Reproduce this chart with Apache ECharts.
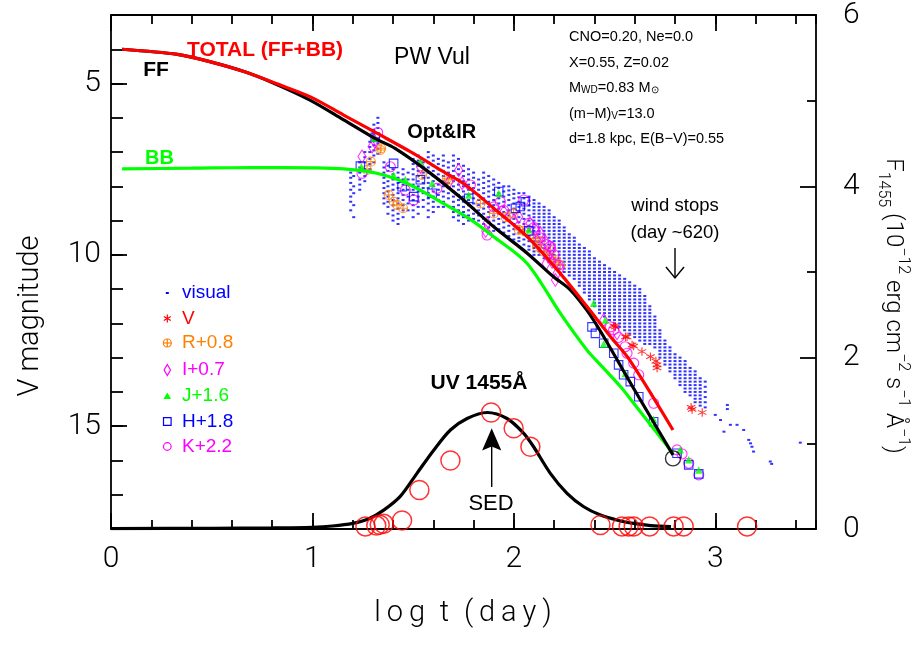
<!DOCTYPE html>
<html>
<head>
<meta charset="utf-8">
<script src="https://cdn.jsdelivr.net/npm/echarts@6/dist/echarts.min.js"></script>
<style>
  html, body { margin: 0; padding: 0; background: #fff; }
  #chart { width: 918px; height: 657px; }
</style>
</head>
<body>
<div id="chart"></div>
<script>
// ---- axis ticks -------------------------------------------------------
const xMajorTicks = [0, 1, 2, 3];
const vMajorTicks = [5, 10, 15];

// ---- model light curves (log t, V mag) --------------------------------
const totalModel = [[0.055,4.0],[0.33,4.15],[0.49,4.36],[0.66,4.65],[0.82,5.0],[0.99,5.39],[1.155,5.92],[1.32,6.45],[1.486,6.99],[1.65,7.57],[1.76,7.96],[1.90,8.64],[2.066,9.47],[2.23,10.54],[2.363,11.51],[2.48,12.39],[2.575,13.07],[2.79,15.11]];
const ffModel = [[0.055,4.0],[0.33,4.15],[0.49,4.36],[0.66,4.65],[0.80,4.97],[0.99,5.49],[1.155,6.06],[1.31,6.6],[1.41,6.89],[1.575,7.57],[1.74,8.35],[1.90,9.18],[2.066,9.95],[2.197,10.64],[2.28,11.02],[2.363,11.62],[2.43,12.23],[2.6,13.95],[2.79,15.84]];
const bbModel = [[0.055,7.49],[0.4,7.47],[0.7,7.45],[1.0,7.46],[1.155,7.49],[1.32,7.62],[1.486,7.96],[1.65,8.5],[1.78,8.95],[1.90,9.47],[2.066,10.25],[2.23,11.7],[2.363,12.78],[2.43,13.21],[2.53,13.85],[2.595,14.33],[2.79,15.79]];
const windStop = [[2.79, 15.94]];

// ---- UV 1455 flux (log t, 1e-12 erg/cm2/s/A) ---------------------------
const uvModel = [[0.0,0.005],[0.5,0.008],[0.8,0.012],[1.0,0.02],[1.1,0.035],[1.2,0.066],[1.28,0.12],[1.354,0.22],[1.436,0.38],[1.519,0.65],[1.602,0.92],[1.685,1.156],[1.768,1.29],[1.867,1.36],[1.966,1.29],[2.049,1.117],[2.098,0.96],[2.181,0.65],[2.264,0.417],[2.347,0.26],[2.43,0.163],[2.52,0.1],[2.595,0.066],[2.68,0.04],[2.78,0.027]];
const uvObs = [[1.263,0.03],[1.317,0.04],[1.334,0.05],[1.354,0.06],[1.445,0.1],[1.531,0.455],[1.685,0.80],[1.887,1.36],[1.999,1.175],[2.082,0.96],[2.43,0.047],[2.537,0.03],[2.57,0.03],[2.595,0.03],[2.674,0.03],[2.793,0.03],[2.843,0.03],[3.158,0.03]];

// ---- photometry (log t, mag) -------------------------------------------
const vObs = [[2.496,12.07],[2.504,12.1],[2.554,12.39],[2.562,12.39],[2.587,12.63],[2.595,12.66],[2.636,12.82],[2.678,12.97],[2.705,13.1],[2.711,13.21],[2.711,13.3],[2.88,14.45],[2.885,14.51],[2.935,14.6]];
const rObs = [[1.29,7.28],[1.271,7.52],[1.337,6.94],[1.341,6.89],[1.378,8.25],[1.403,8.45],[1.42,8.54],[1.45,8.64],[1.544,7.67],[1.668,7.77],[1.676,7.81],[1.834,8.5],[1.9,8.79],[1.96,8.9],[1.999,8.79],[2.024,9.27],[2.05,9.3],[2.099,9.52],[2.115,9.76],[2.13,9.6],[2.148,9.91],[2.17,10.0],[2.181,9.86],[2.206,10.15],[2.2,10.2],[2.23,10.3]];
const iObs = [[1.246,7.13],[1.296,6.84],[1.31,6.7],[1.536,7.43],[1.68,7.86],[1.726,7.52],[1.743,7.91],[1.86,9.3],[1.867,9.08],[1.95,8.75],[2.0,9.0],[2.024,8.89],[2.08,9.08],[2.11,9.3],[2.132,9.37],[2.156,9.61],[2.16,10.25],[2.17,10.05],[2.189,9.81],[2.19,10.2],[2.206,10.73],[2.214,10.54],[2.23,10.4],[2.446,11.9],[2.512,12.29]];
const jObs = [[1.243,7.43],[1.307,6.6],[1.403,7.67],[1.461,7.8],[1.536,7.28],[1.594,7.91],[1.775,8.25],[1.925,8.2],[2.074,9.27],[2.396,11.41],[2.454,11.9],[2.446,12.6],[2.553,13.46],[2.694,14.8],[2.826,15.69],[2.868,15.98],[2.918,16.28]];
const hObs = [[1.238,7.41],[1.312,6.57],[1.403,7.33],[1.445,8.01],[1.503,8.3],[1.536,7.81],[1.594,8.2],[1.776,8.35],[1.925,8.15],[2.008,8.64],[2.032,8.59],[2.057,8.45],[2.074,9.3],[2.388,12.1],[2.405,12.29],[2.446,12.58],[2.496,12.87],[2.52,13.21],[2.545,13.5],[2.578,13.7],[2.62,14.14],[2.694,14.87],[2.81,15.79],[2.868,16.13],[2.918,16.39]];
const kObs = [[1.246,7.62],[1.324,6.43],[1.387,7.43],[1.461,8.11],[1.503,8.4],[1.618,8.06],[1.784,7.96],[1.867,9.42],[1.9,8.6],[1.933,8.45],[1.95,8.7],[2.049,8.4],[2.074,9.08],[2.1,9.2],[2.13,9.5],[2.16,9.7],[2.18,9.75],[2.2,10.0],[2.22,10.3],[2.479,12.1],[2.495,12.19],[2.52,12.41],[2.553,12.68],[2.562,12.87],[2.595,13.16],[2.62,13.5],[2.694,14.33],[2.81,15.69],[2.835,15.81],[2.868,16.08],[2.918,16.42]];

// visual estimates: one column per epoch group, log t then the magnitudes
const visualCols = [
  [1.19,[7.6,7.75,7.9,8.1,8.3,8.45,8.7]],
  [1.205,[7.7,8.0,8.2,8.55,8.9]],
  [1.235,[7.3,7.45,7.6,7.8,7.95,8.1]],
  [1.26,[7.0,7.15,7.3,7.5,7.7,7.85]],
  [1.285,[6.7,6.85,7.0,7.2,7.35,7.5]],
  [1.305,[6.2,6.35,6.5,6.65,6.8,6.95,7.1,7.3]],
  [1.325,[6.0,6.15,6.3,6.45,6.6,6.75,6.9,7.05]],
  [1.355,[7.3,7.45,7.6,7.75,7.9,8.05,8.2,8.35,8.5]],
  [1.375,[7.4,7.55,7.7,7.85,8.0,8.15,8.3,8.45,8.6,8.8]],
  [1.40,[7.5,7.65,7.8,7.95,8.1,8.25,8.4,8.55,8.7,8.85,9.0]],
  [1.425,[7.6,7.75,7.9,8.05,8.2,8.35,8.5,8.65,8.8,8.95,9.1]],
  [1.45,[7.5,7.65,7.8,7.95,8.1,8.25,8.4,8.55,8.7,8.9]],
  [1.475,[7.6,7.8,7.95,8.1,8.3,8.5,8.7]],
  [1.50,[7.2,7.35,7.5,7.65,7.8,7.95,8.1,8.25,8.4,8.55,8.7,8.9]],
  [1.525,[7.1,7.25,7.4,7.55,7.7,7.85,8.0,8.15,8.3,8.45,8.6,8.8]],
  [1.55,[7.3,7.45,7.6,7.75,7.9,8.05,8.2,8.4,8.6]],
  [1.575,[7.0,7.15,7.3,7.45,7.6,7.75,7.9,8.05,8.2,8.35,8.5,8.7,8.9]],
  [1.60,[7.1,7.25,7.4,7.55,7.7,7.85,8.0,8.15,8.3,8.45,8.6,8.75]],
  [1.625,[7.2,7.35,7.5,7.65,7.8,7.95,8.1,8.25,8.4,8.6]],
  [1.65,[7.1,7.25,7.4,7.55,7.7,7.85,8.0,8.15,8.3,8.45,8.6]],
  [1.675,[7.3,7.45,7.6,7.75,7.9,8.05,8.2,8.35]],
  [1.70,[7.1,7.25,7.4,7.55,7.7,7.85,8.0,8.15,8.3,8.45,8.6,8.75,8.9]],
  [1.725,[7.2,7.35,7.5,7.65,7.8,7.95,8.1,8.25,8.4,8.55,8.7,8.85,9.0]],
  [1.75,[7.4,7.55,7.7,7.85,8.0,8.15,8.3,8.45,8.6,8.75,8.9,9.1]],
  [1.775,[7.5,7.65,7.8,7.95,8.1,8.25,8.4,8.55,8.7,8.85,9.0]],
  [1.80,[7.6,7.75,7.9,8.05,8.2,8.35,8.5,8.65,8.8,8.95]],
  [1.825,[7.8,7.95,8.1,8.25,8.4,8.55,8.7,8.85,9.0]],
  [1.85,[7.6,7.75,7.9,8.05,8.2,8.35,8.5,8.65,8.8,8.95,9.1]],
  [1.875,[7.7,7.85,8.0,8.15,8.3,8.45,8.6,8.75,8.9,9.05,9.2]],
  [1.90,[7.8,7.95,8.1,8.25,8.4,8.55,8.7,8.85,9.0,9.15,9.3]],
  [1.925,[7.9,8.05,8.2,8.35,8.5,8.65,8.8,8.95,9.1,9.25]],
  [1.95,[8.0,8.15,8.3,8.45,8.6,8.75,8.9,9.05,9.2,9.35]],
  [1.975,[8.0,8.12,8.25,8.4,8.55,8.7,8.85,9.0,9.15,9.3,9.45]],
  [2.00,[8.1,8.22,8.35,8.5,8.65,8.8,8.95,9.1,9.25,9.4,9.55]],
  [2.025,[8.2,8.32,8.45,8.6,8.75,8.9,9.05,9.2,9.35,9.5,9.6]],
  [2.05,[8.2,8.35,8.5,8.65,8.8,8.95,9.1,9.25,9.4,9.55,9.7]],
  [2.075,[8.3,8.42,8.55,8.7,8.85,9.0,9.15,9.3,9.45,9.6,9.75,9.85]],
  [2.10,[8.4,8.5,8.6,8.7,8.8,8.9,9.0,9.1,9.2,9.3,9.4,9.5,9.6,9.7,9.8,9.9,10.0]],
  [2.125,[8.5,8.6,8.7,8.8,8.9,9.0,9.1,9.2,9.3,9.4,9.5,9.6,9.7,9.8,9.9,10.0]],
  [2.15,[8.6,8.7,8.8,8.9,9.0,9.1,9.2,9.3,9.4,9.5,9.6,9.7,9.8,9.9,10.0,10.1]],
  [2.175,[8.7,8.8,8.9,9.0,9.1,9.2,9.3,9.4,9.5,9.6,9.7,9.8,9.9,10.0,10.1,10.2]],
  [2.20,[8.9,9.0,9.1,9.2,9.3,9.4,9.5,9.6,9.7,9.8,9.9,10.0,10.1,10.2,10.3]],
  [2.225,[9.0,9.1,9.2,9.3,9.4,9.5,9.6,9.7,9.8,9.9,10.0,10.1,10.2,10.3,10.4]],
  [2.25,[9.2,9.3,9.4,9.5,9.6,9.7,9.8,9.9,10.0,10.1,10.2,10.3,10.4,10.5]],
  [2.275,[9.4,9.5,9.6,9.7,9.8,9.9,10.0,10.1,10.2,10.3,10.4,10.5,10.6]],
  [2.30,[9.5,9.6,9.7,9.8,9.9,10.0,10.1,10.2,10.3,10.4,10.5,10.6,10.7]],
  [2.325,[9.7,9.8,9.9,10.0,10.1,10.2,10.3,10.4,10.5,10.6,10.7,10.8,10.9]],
  [2.35,[9.8,9.9,10.0,10.1,10.2,10.3,10.4,10.5,10.6,10.7,10.8,10.9,11.0,11.1]],
  [2.375,[9.9,10.0,10.1,10.2,10.3,10.4,10.5,10.6,10.7,10.8,10.9,11.0,11.1,11.2,11.3]],
  [2.40,[10.1,10.2,10.3,10.4,10.5,10.6,10.7,10.8,10.9,11.0,11.1,11.2,11.3,11.4,11.5]],
  [2.425,[10.2,10.3,10.4,10.5,10.6,10.7,10.8,10.9,11.0,11.1,11.2,11.3,11.4,11.5,11.6,11.7]],
  [2.45,[10.3,10.4,10.5,10.6,10.7,10.8,10.9,11.0,11.1,11.2,11.3,11.4,11.5,11.6,11.7,11.8]],
  [2.475,[10.4,10.5,10.6,10.7,10.8,10.9,11.0,11.1,11.2,11.3,11.4,11.5,11.6,11.7,11.8,11.9]],
  [2.50,[10.5,10.6,10.7,10.8,10.9,11.0,11.1,11.2,11.3,11.4,11.5,11.6,11.7,11.8,11.9,12.0]],
  [2.525,[10.6,10.7,10.8,10.9,11.0,11.1,11.2,11.3,11.4,11.5,11.6,11.7,11.8,11.9,12.0,12.1]],
  [2.55,[10.7,10.8,10.9,11.0,11.1,11.2,11.3,11.4,11.5,11.6,11.7,11.8,11.9,12.0,12.1,12.2]],
  [2.575,[10.8,10.9,11.0,11.1,11.2,11.3,11.4,11.5,11.6,11.7,11.8,11.9,12.0,12.1,12.2,12.3]],
  [2.60,[10.9,11.0,11.1,11.2,11.3,11.4,11.5,11.6,11.7,11.8,11.9,12.0,12.1,12.2,12.3,12.4]],
  [2.625,[11.0,11.1,11.2,11.3,11.4,11.5,11.6,11.7,11.8,11.9,12.0,12.1,12.2,12.3,12.4,12.5]],
  [2.65,[11.2,11.3,11.4,11.5,11.6,11.7,11.8,11.9,12.0,12.1,12.2,12.3,12.4,12.5,12.6]],
  [2.675,[11.5,11.6,11.7,11.8,11.9,12.0,12.1,12.2,12.3,12.4,12.5,12.6]],
  [2.70,[11.8,11.9,12.0,12.1,12.2,12.3,12.4,12.5,12.6,12.7]],
  [2.725,[12.2,12.3,12.4,12.5,12.6,12.7,12.8,12.9,13.0]],
  [2.75,[12.5,12.6,12.7,12.8,12.9,13.0,13.1,13.2]],
  [2.775,[12.7,12.8,12.9,13.0,13.1,13.2,13.3,13.4]],
  [2.80,[12.9,13.0,13.1,13.2,13.3,13.4,13.5,13.6]],
  [2.825,[13.0,13.1,13.2,13.3,13.4,13.5,13.6,13.7,13.8]],
  [2.85,[13.1,13.2,13.3,13.4,13.5,13.6,13.7,13.8,13.9,14.0]],
  [2.875,[13.3,13.4,13.5,13.6,13.7,13.8,13.9,14.0,14.1]],
  [2.90,[13.4,13.5,13.6,13.7,13.8,13.9,14.0,14.1,14.2,14.3]],
  [2.925,[13.6,13.7,13.8,13.9,14.0,14.1,14.2,14.3,14.4]],
  [2.95,[13.7,13.85,14.0,14.15,14.3,14.45]]
];
const visualTail = [[3.0,14.67],[3.026,14.82],[3.043,15.16],[3.06,14.38],[3.06,14.5],[3.075,14.96],[3.108,14.96],[3.141,15.11],[3.166,15.4],[3.175,15.5],[3.182,15.6],[3.19,15.74],[3.273,16.03],[3.28,16.1],[3.422,15.48]];

const visualPts = visualCols.flatMap(([t, mags]) => mags.map(m => [t, m])).concat(visualTail);

// ---- styling ------------------------------------------------------------
const C = { red: '#ff0000', green: '#00ff00', blue: '#0000ff', magenta: '#ff00ff', orange: '#ff8000', black: '#000000' };
const THIN = '"Roboto", "Liberation Sans", sans-serif';
const SANS = '"Liberation Sans", Arial, sans-serif';
const FRAME = { color: '#000', width: 1.8 };

const SYM_OPLUS = 'path://M0,5A5,5 0 1 1 10,5A5,5 0 1 1 0,5Z M5,0L5,10 M0,5L10,5';
const SYM_STAR = 'path://M5,0L5,10 M0.67,2.5L9.33,7.5 M0.67,7.5L9.33,2.5';

function hollow(color, w) {
  return { color: 'rgba(0,0,0,0)', borderColor: color, borderWidth: w || 1.1 };
}

function photSeries(name, data, symbol, size, itemStyle, z) {
  return { name, type: 'scatter', xAxisIndex: 0, yAxisIndex: 0, data, symbol, symbolSize: size,
           itemStyle, z: z || 3, silent: true, clip: false };
}

function modelLine(data, color, z) {
  return { type: 'line', xAxisIndex: 0, yAxisIndex: 0, data, smooth: 0.3,
           showSymbol: false, symbol: 'none', lineStyle: { color, width: 3.2 }, z, silent: true };
}

// ---- annotations ------------------------------------------------------
function txt(x, y, text, font, fill, extra) {
  return Object.assign({ type: 'text', x, y, silent: true, z: 50,
    style: { text, font, fill, align: 'center', verticalAlign: 'middle', textAlign: 'center', textVerticalAlign: 'middle' } }, extra || {});
}
function leftTxt(x, y, text, font, fill, rich) {
  const el = txt(x, y, text, font, fill);
  el.style.align = 'left'; el.style.textAlign = 'left';
  if (rich) el.style.rich = rich;
  return el;
}
function seg(x1, y1, x2, y2, stroke, w) {
  return { type: 'line', silent: true, z: 50, shape: { x1, y1, x2, y2 }, style: { stroke, lineWidth: w || 1.2 } };
}

const paramRich = {
  s: { fontSize: 10, fontFamily: SANS, fill: '#000', verticalAlign: 'bottom', lineHeight: 10 }
};

const rightTitleRich = {
  b: { fontSize: 24, fontFamily: THIN, fontWeight: 300, fill: '#000', lineHeight: 36 },
  sup: { fontSize: 16, fontFamily: THIN, fontWeight: 300, fill: '#000', verticalAlign: 'top', lineHeight: 16 },
  sub: { fontSize: 16, fontFamily: THIN, fontWeight: 300, fill: '#000', verticalAlign: 'bottom', lineHeight: 16 }
};

const legendRows = [
  { label: 'visual', color: C.blue, y: 293 },
  { label: 'V', color: C.red, y: 318.5 },
  { label: 'R+0.8', color: C.orange, y: 343 },
  { label: 'I+0.7', color: C.magenta, y: 370 },
  { label: 'J+1.6', color: C.green, y: 396 },
  { label: 'H+1.8', color: C.blue, y: 421.5 },
  { label: 'K+2.2', color: C.magenta, y: 446.5 }
];
const LX = 167.3, LT = 182;
const legendGraphics = [
  { type: 'rect', silent: true, z: 50, shape: { x: LX - 1.5, y: 292, width: 3, height: 2 }, style: { fill: C.blue } },
  seg(LX, 314.5, LX, 322.5, C.red), seg(LX - 3.5, 316.5, LX + 3.5, 320.5, C.red), seg(LX - 3.5, 320.5, LX + 3.5, 316.5, C.red),
  { type: 'circle', silent: true, z: 50, shape: { cx: LX, cy: 343, r: 4 }, style: { fill: 'rgba(0,0,0,0)', stroke: C.orange, lineWidth: 1.2 } },
  seg(LX, 339, LX, 347, C.orange), seg(LX - 4, 343, LX + 4, 343, C.orange),
  { type: 'polygon', silent: true, z: 50, shape: { points: [[LX, 364.5], [LX + 3.2, 370], [LX, 375.5], [LX - 3.2, 370]] }, style: { fill: 'rgba(0,0,0,0)', stroke: C.magenta, lineWidth: 1.2 } },
  { type: 'polygon', silent: true, z: 50, shape: { points: [[LX, 392.5], [LX + 3.8, 399], [LX - 3.8, 399]] }, style: { fill: C.green } },
  { type: 'rect', silent: true, z: 50, shape: { x: LX - 3.8, y: 417.7, width: 7.6, height: 7.6 }, style: { fill: 'rgba(0,0,0,0)', stroke: C.blue, lineWidth: 1.2 } },
  { type: 'circle', silent: true, z: 50, shape: { cx: LX, cy: 446.5, r: 3.8 }, style: { fill: 'rgba(0,0,0,0)', stroke: C.magenta, lineWidth: 1.2 } }
].concat(legendRows.map(r => leftTxt(LT, r.y, r.label, `19px ${SANS}`, r.color)));

const rightTitle = txt(893, 306,
  '{b|F}{sub|1455}{b| (10}{sup|\u221212}{b| erg cm}{sup|\u22122}{b| s}{sup|\u22121}{b| \u00C5}{sup|\u22121}{b|)}',
  `300 24px ${THIN}`, C.black, { rotation: -Math.PI / 2 });
rightTitle.style.rich = rightTitleRich;

const annotations = [
  txt(265, 50, 'TOTAL (FF+BB)', `bold 21px ${SANS}`, C.red),
  txt(156, 70, 'FF', `bold 21px ${SANS}`, C.black),
  txt(159.5, 158, 'BB', `bold 20px ${SANS}`, C.green),
  txt(432, 58, 'PW Vul', `23px ${SANS}`, C.black),
  txt(441.7, 132.5, 'Opt&IR', `bold 20px ${SANS}`, C.black),
  leftTxt(569, 36.5, 'CNO=0.20, Ne=0.0', `14.5px ${SANS}`, C.black),
  leftTxt(569, 62.5, 'X=0.55, Z=0.02', `14.5px ${SANS}`, C.black),
  leftTxt(569, 88, 'M{s|WD}=0.83 M{s|\u2299}', `14.5px ${SANS}`, C.black, paramRich),
  leftTxt(569, 114, '(m\u2212M){s|V}=13.0', `14.5px ${SANS}`, C.black, paramRich),
  leftTxt(569, 139, 'd=1.8 kpc, E(B\u2212V)=0.55', `14.5px ${SANS}`, C.black),
  txt(675, 206, 'wind stops', `18.5px ${SANS}`, C.black),
  txt(675, 233, '(day ~620)', `18.5px ${SANS}`, C.black),
  seg(675, 248, 675, 278, '#000', 1.4),
  { type: 'polyline', silent: true, z: 50, shape: { points: [[666, 267], [675, 278], [684, 267]] }, style: { fill: null, stroke: '#000', lineWidth: 1.4 } },
  txt(479, 383.5, 'UV 1455\u00C5', `bold 21px ${SANS}`, C.black),
  txt(491, 504, 'SED', `22px ${SANS}`, C.black),
  seg(491.7, 487, 491.7, 446, '#000', 1.4),
  { type: 'polygon', silent: true, z: 50, shape: { points: [[491.7, 428.3], [501.3, 450.5], [491.7, 446.5], [482.1, 450.5]] }, style: { fill: '#000' } },
  // axis titles
  txt(463, 614, 'l\u2009o\u2009g\u2002t\u2002(\u2009d\u2009a\u2009y\u2009)', `300 29px ${THIN}`, C.black),
  txt(31, 316, 'V magnitude', `300 29px ${THIN}`, C.black, { rotation: Math.PI / 2 }),
  rightTitle
];

// ---- chart ------------------------------------------------------------
const chart = echarts.init(document.getElementById('chart'), null, { renderer: 'canvas' });

const tickLabelStyle = { fontFamily: THIN, fontWeight: 300, fontSize: 30, color: '#000' };
const noSplit = { show: false };

chart.setOption({
  animation: false,
  backgroundColor: '#fff',
  grid: { left: 111, top: 15, width: 705, height: 514, containLabel: false },
  xAxis: [
    { type: 'value', position: 'bottom', min: 0, max: 3.5, interval: 1,
      axisLine: { onZero: false, lineStyle: FRAME },
      axisTick: { inside: true, length: 16, customValues: xMajorTicks, lineStyle: FRAME },
      axisLabel: Object.assign({ margin: 15, customValues: xMajorTicks, formatter: v => String(v) }, tickLabelStyle),
      splitLine: noSplit },
    { type: 'value', position: 'bottom', min: 0, max: 3.5, interval: 0.2,
      axisLine: { show: false, onZero: false },
      axisTick: { inside: true, length: 9, lineStyle: FRAME },
      axisLabel: { show: false }, splitLine: noSplit },
    { type: 'value', position: 'top', min: 0, max: 3.5, interval: 1,
      axisLine: { onZero: false, lineStyle: FRAME },
      axisTick: { inside: true, length: 16, customValues: xMajorTicks, lineStyle: FRAME },
      axisLabel: { show: false }, splitLine: noSplit },
    { type: 'value', position: 'top', min: 0, max: 3.5, interval: 0.2,
      axisLine: { show: false, onZero: false },
      axisTick: { inside: true, length: 9, lineStyle: FRAME },
      axisLabel: { show: false }, splitLine: noSplit }
  ],
  yAxis: [
    { type: 'value', position: 'left', min: 3, max: 18, inverse: true,
      axisLine: { onZero: false, lineStyle: FRAME },
      axisTick: { inside: true, length: 16, customValues: vMajorTicks, lineStyle: FRAME },
      axisLabel: Object.assign({ margin: 10, customValues: vMajorTicks, formatter: v => String(v) }, tickLabelStyle),
      splitLine: noSplit },
    { type: 'value', position: 'left', min: 3, max: 18, interval: 1, inverse: true,
      axisLine: { show: false, onZero: false },
      axisTick: { inside: true, length: 12, lineStyle: FRAME },
      axisLabel: { show: false }, splitLine: noSplit },
    { type: 'value', position: 'right', min: 0, max: 6, interval: 2,
      axisLine: { onZero: false, lineStyle: FRAME },
      axisTick: { inside: true, length: 16, lineStyle: FRAME },
      minorTick: { show: true, splitNumber: 2, length: 9, lineStyle: FRAME },
      axisLabel: Object.assign({ margin: 27 }, tickLabelStyle),
      splitLine: noSplit, minorSplitLine: noSplit }
  ],
  graphic: { elements: legendGraphics.concat(annotations) },
  series: [
    photSeries('visual', visualPts, 'rect', [3, 2], { color: C.blue }, 1),
    photSeries('R+0.8', rObs, SYM_OPLUS, 9, hollow(C.orange)),
    photSeries('I+0.7', iObs, 'diamond', [8, 13], hollow(C.magenta)),
    photSeries('K+2.2', kObs, 'circle', 10, hollow(C.magenta)),
    photSeries('H+1.8', hObs, 'rect', 8.5, hollow(C.blue)),
    photSeries('J+1.6', jObs, 'triangle', 7.5, { color: C.green }),
    photSeries('V', vObs, SYM_STAR, 8.5, hollow(C.red, 1.1)),
    modelLine(bbModel, C.green, 6),
    modelLine(ffModel, C.black, 7),
    modelLine(totalModel, C.red, 8),
    photSeries('wind stop', windStop, 'circle', 15, hollow(C.black, 1.4), 9),
    { type: 'line', xAxisIndex: 0, yAxisIndex: 2, data: uvModel, smooth: 0.3,
      showSymbol: false, symbol: 'none', lineStyle: { color: C.black, width: 3.2 }, z: 7, silent: true },
    { type: 'scatter', xAxisIndex: 0, yAxisIndex: 2, data: uvObs, symbol: 'circle', symbolSize: 19,
      itemStyle: hollow(C.red, 1.5), z: 8, silent: true, clip: false }
  ]
});
</script>
</body>
</html>
